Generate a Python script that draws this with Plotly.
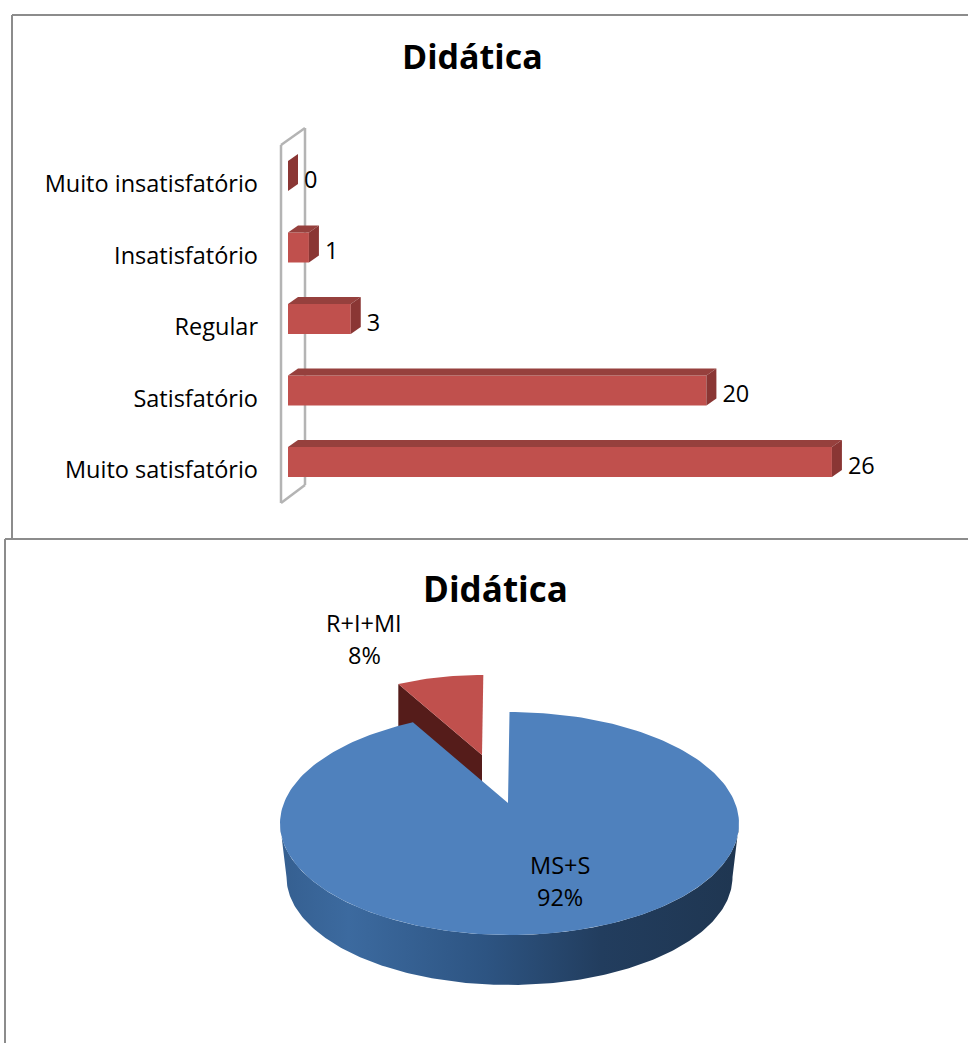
import numpy as np
import plotly.graph_objects as go

W, H = 968, 1043
FONT = "Open Sans"

# ---------- data ----------
categories = ["Muito satisfatório", "Satisfatório", "Regular", "Insatisfatório", "Muito insatisfatório"]
bar_values = [26, 20, 3, 1, 0]
pie_labels = ["MS+S", "R+I+MI"]
pie_shares = [92, 8]
chart_title = "Didática"

# ---------- styles ----------
RED, RED_TOP, RED_SIDE = "#c0504d", "#96403d", "#8a3634"
BLUE = "#4f81bd"
GREY = "#8c8c8c"
WALL = "#b4b4b4"
LABEL_SIZE = 23.5

# bar axis scale (px per unit)
PX_X, PX_Y = 20.92, 71.5
X0_PX, Y0_PX = 288, 462
BAR_W = 30 / PX_Y
DX, DY = 10 / PX_X, 7 / PX_Y

fig = go.Figure()

# --- 3-D sides of the bars, computed from the values
for i, v in enumerate(bar_values):
    t, b = i + BAR_W / 2, i - BAR_W / 2
    if v > 0:
        fig.add_trace(go.Scatter(x=[0, v, v + DX, DX, 0], y=[t, t, t + DY, t + DY, t], mode="lines",
                                 fill="toself", fillcolor=RED_TOP, line=dict(width=0),
                                 hoverinfo="skip", showlegend=False, xaxis="x", yaxis="y"))
    fig.add_trace(go.Scatter(x=[v, v + DX, v + DX, v, v], y=[t, t + DY, b + DY, b, t], mode="lines",
                             fill="toself", fillcolor=RED_SIDE, line=dict(width=0),
                             hoverinfo="skip", showlegend=False, xaxis="x", yaxis="y"))

fig.add_trace(go.Bar(x=bar_values, y=list(range(len(categories))), orientation="h", width=BAR_W,
                     marker=dict(color=RED, line=dict(width=0)), showlegend=False,
                     xaxis="x", yaxis="y"))

# --- value labels
fig.add_trace(go.Scatter(x=[v + DX + 6 / PX_X for v in bar_values],
                         y=[i - 6 / PX_Y for i in range(len(categories))],
                         text=[str(v) for v in bar_values], mode="text", textposition="middle right",
                         textfont=dict(family=FONT, size=LABEL_SIZE, color="black"), showlegend=False,
                         cliponaxis=False, xaxis="x", yaxis="y"))

# --- pie, computed from the shares
CX, CY, RX, RY = 509.5, 823.5, 229.5, 111.5     # top ellipse
TIP = np.array([508.0, 803.0])                  # apex of the slice
BCX, BCY, BRX, BRY = 509.5, 877.0, 223.0, 108.0 # bottom ellipse
PERSP = 0.864
cut = np.radians(pie_shares[1] / sum(pie_shares) * 360 * PERSP)

th = np.linspace(0, 2 * np.pi - cut, 240)
ex, ey = CX + RX * np.sin(th), CY - RY * np.cos(th)

# red slice
s = 0.88
TIP_R = np.array([482.0, 755.0])
th_r = np.linspace(-cut, 0, 30)
rx = TIP_R[0] + s * (CX + RX * np.sin(th_r) - TIP[0])
ry = TIP_R[1] + s * (CY - RY * np.cos(th_r) - TIP[1])
DEPTH_R = 27
fig.add_trace(go.Scatter(x=[rx[0], TIP_R[0], TIP_R[0], rx[0], rx[0]],
                         y=[ry[0], TIP_R[1], TIP_R[1] + DEPTH_R, ry[0] + 45, ry[0]],
                         mode="lines", fill="toself", fillcolor="#551c1a", line=dict(width=0),
                         hoverinfo="skip", showlegend=False, xaxis="x2", yaxis="y2"))
fig.add_trace(go.Scatter(x=np.r_[TIP_R[0], rx, TIP_R[0]], y=np.r_[TIP_R[1], ry, TIP_R[1]],
                         mode="lines", fill="toself", fillcolor=RED, line=dict(width=0),
                         hoverinfo="skip", showlegend=False, xaxis="x2", yaxis="y2"))

# blue wall with gradient (lighter on the left, dark on the right)
a = np.radians(np.linspace(90, 270, 200))
top_x, top_y = CX + RX * np.sin(a), CY - RY * np.cos(a)
bot_x, bot_y = BCX + BRX * np.sin(a), BCY - BRY * np.cos(a)
wx = np.r_[top_x, bot_x[::-1], top_x[0]]
wy = np.r_[top_y, bot_y[::-1], top_y[0]]
fig.add_trace(go.Scatter(x=wx, y=wy, mode="lines", line=dict(width=0), fill="toself",
                         fillgradient=dict(type="horizontal",
                                           colorscale=[[0, "#355f90"], [0.15, "#3c6a9f"],
                                                       [0.45, "#2d5482"], [0.7, "#223d5e"], [1, "#1f3651"]]),
                         hoverinfo="skip", showlegend=False, xaxis="x2", yaxis="y2"))

# blue top face
fig.add_trace(go.Scatter(x=np.r_[TIP[0], ex, TIP[0]], y=np.r_[TIP[1], ey, TIP[1]], mode="lines",
                         fill="toself", fillcolor=BLUE, line=dict(width=0),
                         hoverinfo="skip", showlegend=False, xaxis="x2", yaxis="y2"))

# --- layout
shapes = []
def px_line(x0, y0, x1, y1, color, width):
    shapes.append(dict(type="line", xref="paper", yref="paper", x0=x0 / W, x1=x1 / W,
                       y0=1 - y0 / H, y1=1 - y1 / H, line=dict(color=color, width=width), layer="below"))

px_line(12, 15, 968, 15, GREY, 2)
px_line(12, 15, 12, 539, GREY, 2)
px_line(5, 539, 968, 539, GREY, 2)
px_line(5, 539, 5, 1043, GREY, 2)
for seg in [(281, 145, 281, 503), (281, 145, 305, 128), (305, 128, 305, 485), (281, 503, 305, 485)]:
    px_line(*seg, WALL, 2.5)

def text(x, y, s, size=LABEL_SIZE, bold=False):
    return dict(xref="paper", yref="paper", x=x / W, y=1 - y / H, text=f"<b>{s}</b>" if bold else s,
                showarrow=False, xanchor="center", yanchor="middle",
                font=dict(family=FONT, size=size, color="black"))

annotations = [
    text(472, 56, chart_title, 34, True),
    text(495, 588, chart_title, 35, True),
    text(560, 865, pie_labels[0]),
    text(560, 897, f"{pie_shares[0]}%"),
    text(364, 623, pie_labels[1]),
    text(364, 655, f"{pie_shares[1]}%"),
]

fig.update_layout(
    width=W, height=H, margin=dict(l=0, r=0, t=0, b=0), paper_bgcolor="white", plot_bgcolor="rgba(0,0,0,0)",
    showlegend=False, shapes=shapes, annotations=annotations,
    font=dict(family=FONT, size=LABEL_SIZE, color="black"),
    xaxis=dict(domain=[280 / W, 1], range=[(280 - X0_PX) / PX_X, (W - X0_PX) / PX_X], visible=False),
    yaxis=dict(domain=[(H - 539) / H, (H - 14) / H],
               range=[(Y0_PX - 539) / PX_Y, (Y0_PX - 14) / PX_Y],
               tickvals=[i - 8 / PX_Y for i in range(len(categories))], ticktext=categories, ticks="",
               showgrid=False, zeroline=False, showline=False, ticklabelstandoff=21,
               tickfont=dict(family=FONT, size=LABEL_SIZE, color="black")),
    xaxis2=dict(domain=[0, 1], range=[0, W], visible=False),
    yaxis2=dict(domain=[0, (H - 539) / H], range=[H, 539], visible=False),
)

fig.write_html("out.html", config={"displayModeBar": False},
               post_script="document.body.style.margin='0';document.body.style.overflow='hidden';")
